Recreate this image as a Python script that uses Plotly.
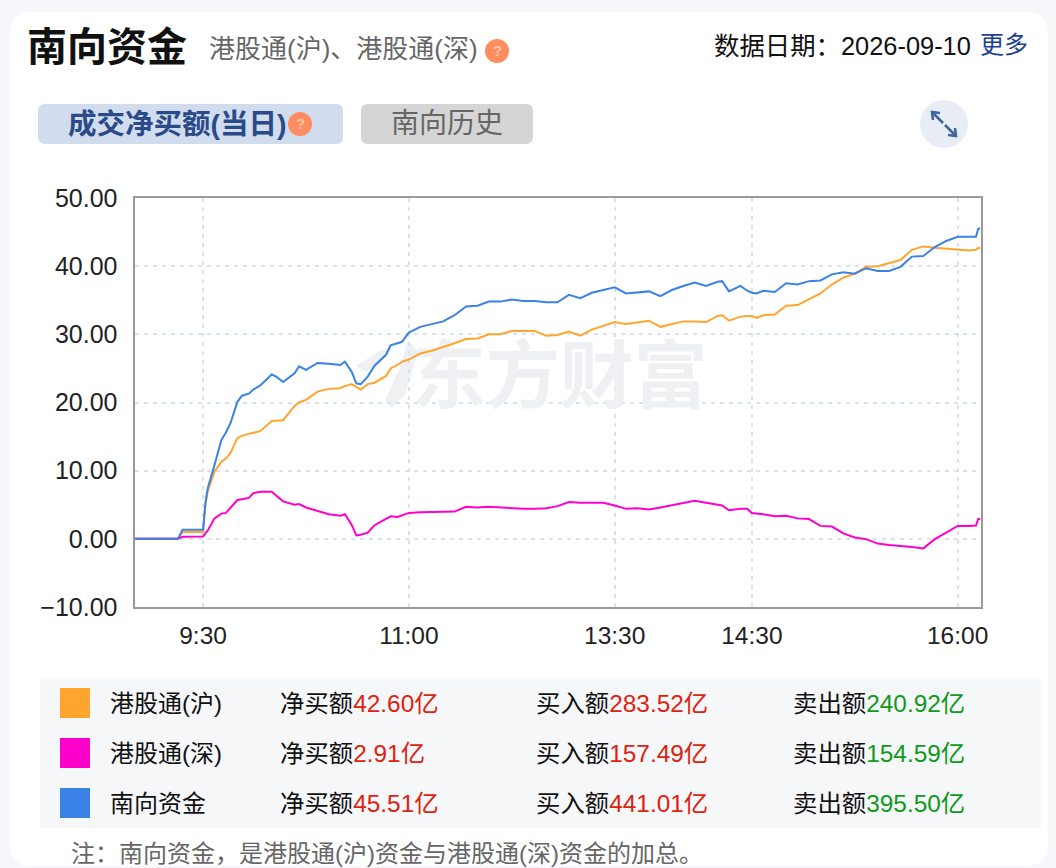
import plotly.graph_objects as go

W, H = 1056, 868
# 左右边界（像素），坐标轴放在这里
PLOT_L, PLOT_R, PLOT_T, PLOT_B = 134.5, 980.5, 198, 607

# 交易分钟数，从 09:00 算起，午休 12:00-13:00 不计
minutes = [0, 19, 21, 30, 31, 32, 35, 38, 40, 42, 45, 47, 50, 52, 55, 60, 62, 65, 70, 72, 75, 80, 85, 90, 92, 95, 97, 99,
           102, 105, 110, 112, 115, 117, 120, 125, 130, 135, 140, 145, 150, 155, 160, 165, 170, 175, 180, 185, 190, 195,
           200, 205, 210, 215, 220, 225, 230, 235, 240, 245, 250, 255, 257, 260, 265, 268, 270, 272, 275, 280, 285, 290,
           295, 300, 305, 310, 315, 320, 325, 330, 335, 340, 345, 350, 355, 360, 365, 368, 369, 370]

hgt_sh = [0, 0, 1.0, 1.0, 5.0, 6.9, 9.9, 11.3, 11.8, 12.6, 14.8, 15.1, 15.4, 15.6, 15.8, 17.3, 17.3, 17.4, 19.5, 20.0, 20.4, 21.6, 22.0, 22.1, 22.4, 22.7, 22.3, 21.9,
          22.7, 22.9, 23.9, 25.0, 25.5, 26.0, 26.3, 27.2, 27.6, 28.1, 28.7, 29.3, 29.4, 30.0, 30.0, 30.5, 30.5, 30.5, 29.8, 29.9, 30.4, 29.8,
          30.7, 31.2, 31.8, 31.5, 31.7, 32.0, 31.1, 31.5, 31.9, 31.9, 31.8, 32.7, 32.8, 32.0, 32.6, 32.7, 32.7, 32.4, 32.8, 32.9, 34.2, 34.3,
          35.1, 36.0, 37.3, 38.3, 38.9, 39.9, 40.0, 40.4, 40.9, 42.4, 42.9, 42.7, 42.6, 42.4, 42.3, 42.4, 42.7, 42.6]

hgt_sz = [0, 0, 0.3, 0.35, 0.8, 1.2, 3.0, 3.7, 3.8, 4.5, 5.7, 5.8, 6.0, 6.7, 6.9, 6.9, 6.3, 5.5, 5.0, 5.1, 4.6, 4.1, 3.6, 3.4, 3.6, 2.05, 0.5, 0.6,
          0.9, 2.0, 2.9, 3.3, 3.2, 3.4, 3.8, 3.9, 3.9, 3.9, 4.0, 4.7, 4.6, 4.7, 4.6, 4.4, 4.4, 4.4, 4.5, 4.8, 5.4, 5.3,
          5.3, 5.3, 4.9, 4.4, 4.5, 4.3, 4.6, 4.9, 5.3, 5.6, 5.3, 5.0, 4.9, 4.2, 4.4, 4.4, 3.8, 3.7, 3.6, 3.3, 3.4, 3.0,
          2.9, 1.9, 1.8, 0.8, 0.2, -0.05, -0.7, -0.9, -1.0, -1.2, -1.4, -0.05, 0.9, 1.9, 1.9, 1.95, 2.9, 2.91]

southbound = [0, 0, 1.32, 1.32, 5.2, 7.4, 10.85, 14.5, 15.6, 17.0, 20.1, 21.0, 21.3, 21.9, 22.5, 24.1, 23.8, 23.0, 24.3, 25.3, 24.8, 25.8, 25.7, 25.5, 26.0, 24.5, 22.8, 22.7,
              23.8, 25.4, 27.0, 28.4, 28.7, 28.9, 30.25, 31.1, 31.5, 31.9, 32.8, 34.1, 34.2, 34.8, 34.8, 35.1, 34.9, 34.9, 34.7, 34.7, 35.8, 35.3,
              36.1, 36.5, 36.9, 36.0, 36.1, 36.3, 35.6, 36.5, 37.1, 37.6, 37.1, 37.7, 37.8, 36.3, 37.1, 36.4, 36.1, 36.0, 36.4, 36.2, 37.5, 37.3,
              37.8, 37.9, 38.8, 39.1, 38.9, 39.7, 39.3, 39.3, 39.9, 41.4, 41.5, 42.8, 43.7, 44.3, 44.3, 44.3, 45.5, 45.51]

tick_minutes = [30, 120, 210, 270, 360]
tick_labels = ["9:30", "11:00", "13:30", "14:30", "16:00"]
y_ticks = [-10, 0, 10, 20, 30, 40, 50]

row_names = ["港股通(沪)", "港股通(深)", "南向资金"]
row_colors = ["#ffa52d", "#ff00cc", "#3b82e6"]
net_buy = ["42.60亿", "2.91亿", "45.51亿"]
buy_amt = ["283.52亿", "157.49亿", "441.01亿"]
sell_amt = ["240.92亿", "154.59亿", "395.50亿"]

FONT = "Liberation Sans, Noto Sans CJK SC, sans-serif"
RED = "#e0210f"
GREEN = "#0f9a1c"


def px(x):
    return x / W


def py(y):
    return 1 - y / H


def round_rect(x0, y0, x1, y1, r):
    # 圆角矩形，坐标都是像素，转成 paper 比例
    pts = [("M", x0 + r, y0), ("L", x1 - r, y0), ("Q", x1, y0, x1, y0 + r), ("L", x1, y1 - r), ("Q", x1, y1, x1 - r, y1),
           ("L", x0 + r, y1), ("Q", x0, y1, x0, y1 - r), ("L", x0, y0 + r), ("Q", x0, y0, x0 + r, y0)]
    out = ""
    for p in pts:
        nums = p[1:]
        coords = []
        for i in range(0, len(nums), 2):
            coords.append(f"{px(nums[i]):.5f},{py(nums[i + 1]):.5f}")
        out += p[0] + " ".join(coords) + " "
    return out + "Z"


def poly(points, close=True):
    s = "M" + " L".join(f"{px(a):.5f},{py(b):.5f}" for a, b in points)
    return s + (" Z" if close else "")


def label(x, y, text, size, color="#111111", anchor="left", bold=False):
    if bold:
        text = f"<b>{text}</b>"
    # 左对齐的文字比目标偏右一点，这里补回来
    if anchor == "left":
        x -= 1.5
    fig.add_annotation(x=px(x), y=py(y), xref="paper", yref="paper", text=text, showarrow=False,
                       xanchor=anchor, yanchor="middle", align=anchor, borderpad=0,
                       font=dict(family=FONT, size=size, color=color))


def help_icon(cx, cy, r=12):
    fig.add_shape(type="circle", xref="paper", yref="paper", x0=px(cx - r), x1=px(cx + r), y0=py(cy + r), y1=py(cy - r),
                  fillcolor="#ff8d60", line_width=0, layer="below")
    label(cx, cy, "?", 15, "#ffc4a8", "center", True)


fig = go.Figure()

# 水印放最底层，线压在上面
fig.add_trace(go.Scatter(x=[186], y=[22.8], mode="text", text=["<b>东方财富</b>"], hoverinfo="skip", showlegend=False,
                         textfont=dict(family="Noto Sans CJK SC", size=74, color="#eff0f3")))

for name, vals, col in [("港股通(沪)", hgt_sh, row_colors[0]), ("港股通(深)", hgt_sz, row_colors[1]), ("南向资金", southbound, row_colors[2])]:
    fig.add_trace(go.Scatter(x=minutes, y=vals, mode="lines", name=name, showlegend=False, line=dict(color=col, width=2)))

# 背景
shapes = [
    dict(path=round_rect(10, 12, 1048, 866, 22), fillcolor="#ffffff"),
    dict(path=round_rect(38, 104, 343, 144, 7), fillcolor="#d1ddef"),
    dict(path=round_rect(361, 104, 533, 144, 7), fillcolor="#d5d5d5"),
    dict(path=poly([(40, 678), (1041, 678), (1041, 828), (40, 828)]), fillcolor="#f6f7f9"),
    # 水印的图标
    dict(path=poly([(356, 366), (378, 352), (397, 344), (380, 362), (366, 372)]), fillcolor="#eff0f3"),
    dict(path=poly([(385, 400), (400, 368), (408, 340), (418, 352), (405, 395), (392, 408)]), fillcolor="#eff0f3"),
]
for s in shapes:
    fig.add_shape(type="path", xref="paper", yref="paper", line_width=0, layer="below", **s)

for i, col in enumerate(row_colors):
    top = 688 + 50 * i
    fig.add_shape(type="rect", xref="paper", yref="paper", x0=px(60), x1=px(90), y0=py(top + 30), y1=py(top),
                  fillcolor=col, line_width=0, layer="below")

# 展开按钮
fig.add_shape(type="circle", xref="paper", yref="paper", x0=px(920), x1=px(968), y0=py(148), y1=py(100),
              fillcolor="#e8edf5", line_width=0, layer="below")
for pts in [[(933, 120), (932, 112), (940, 113)], [(932, 112), (943, 123)], [(955, 128), (956, 136), (948, 135)], [(956, 136), (945, 125)]]:
    fig.add_shape(type="path", xref="paper", yref="paper", path=poly(pts, close=False), line=dict(color="#3f659f", width=2.5), layer="above")

label(27, 47, "南向资金", 40, "#111111", bold=True)
label(209, 49, "港股通(沪)、港股通(深)", 26, "#666666")
help_icon(497, 51)
label(714, 46, "数据日期：2026-09-10", 25.4, "#111111")
label(980, 45, "更多", 24, "#1c3f94")
label(68, 124, "成交净买额(当日)", 28.5, "#2b4a8a", bold=True)
help_icon(300, 124)
label(391, 124, "南向历史", 28, "#666666")

for i in range(3):
    y = 703 + 50 * i
    label(110, y, row_names[i], 24)
    label(280, y, f"净买额<span style='color:{RED}'>{net_buy[i]}</span>", 24.4)
    label(536, y, f"买入额<span style='color:{RED}'>{buy_amt[i]}</span>", 24.4)
    label(793, y, f"卖出额<span style='color:{GREEN}'>{sell_amt[i]}</span>", 24.4)

label(71, 853, "注：南向资金，是港股通(沪)资金与港股通(深)资金的加总。", 24, "#666666")

fig.update_layout(
    width=W,
    height=H,
    autosize=False,
    margin=dict(l=0, r=0, t=0, b=0),
    paper_bgcolor="#f5f7fa",
    plot_bgcolor="rgba(0,0,0,0)",
    hovermode="x unified",
    xaxis=dict(
        domain=[px(PLOT_L), px(PLOT_R)],
        range=[0, 370],
        automargin=False,
        tickmode="array",
        tickvals=tick_minutes,
        ticktext=tick_labels,
        ticks="outside",
        ticklen=6,
        tickcolor="rgba(0,0,0,0)",
        showgrid=True,
        gridcolor="#d9e3ee",
        griddash="4px,5px",
        gridwidth=1.5,
        zeroline=False,
        showline=True,
        mirror=True,
        linecolor="#9a9a9a",
        linewidth=2,
        tickfont=dict(family=FONT, size=24.5, color="#222222"),
    ),
    yaxis=dict(
        domain=[py(PLOT_B), py(PLOT_T)],
        range=[-10, 50],
        automargin=False,
        tickmode="array",
        tickvals=y_ticks,
        tickformat=".2f",
        ticks="outside",
        ticklen=10,
        tickcolor="rgba(0,0,0,0)",
        showgrid=True,
        gridcolor="#d9e3ee",
        griddash="4px,5px",
        gridwidth=1.5,
        zeroline=False,
        showline=True,
        mirror=True,
        linecolor="#9a9a9a",
        linewidth=2,
        tickfont=dict(family=FONT, size=25, color="#222222"),
    ),
)

# 去掉 body 默认的 8px 外边距
fig.write_html("out.html", config={"displayModeBar": False},
               post_script="document.body.style.margin='0';document.body.style.overflow='hidden';")
